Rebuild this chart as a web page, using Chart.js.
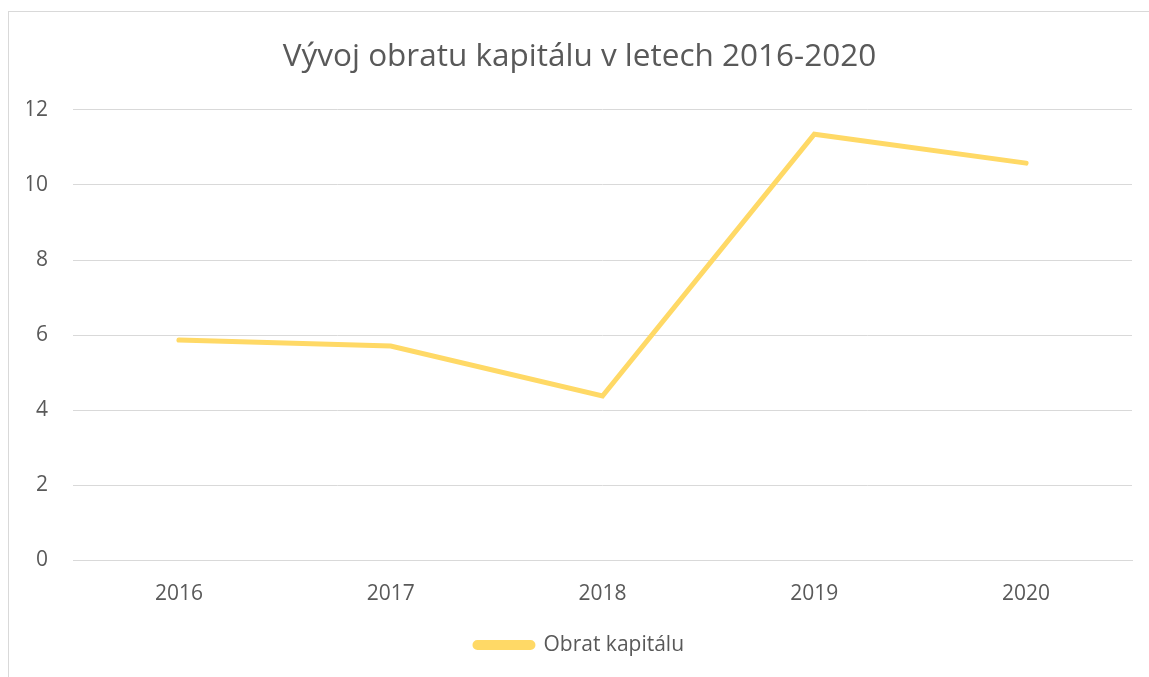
<!DOCTYPE html>
<html>
<head>
<meta charset="utf-8">
<script src="https://cdn.jsdelivr.net/npm/chart.js@4/dist/chart.umd.min.js"></script>
<style>
  html, body { margin: 0; padding: 0; background: #ffffff; overflow: hidden; }
  #frame { position: absolute; left: 8px; top: 11px; width: 1141px; height: 680px; border: 1px solid #d9d9d9; background: #fff; }
  #wrap { position: absolute; left: 0; top: 0; width: 1141px; height: 665px; }
</style>
</head>
<body>
<div id="frame"><div id="wrap"><canvas id="c"></canvas></div></div>
<script>
const titleText = "Vývoj obratu kapitálu v letech 2016-2020";
const categories = ["2016", "2017", "2018", "2019", "2020"];
const seriesName = "Obrat kapitálu";
const seriesValues = [5.87, 5.71, 4.38, 11.35, 10.58];
const yTicks = [0, 2, 4, 6, 8, 10, 12];

const textColor = "#595959";
const gridColor = "#d9d9d9";
const lineColor = "#FFD966";
const fontFamily = "'Open Sans', 'Liberation Sans', sans-serif";

new Chart(document.getElementById("c"), {
  type: "line",
  data: {
    labels: categories,
    datasets: [{
      label: seriesName,
      data: seriesValues,
      borderColor: lineColor,
      backgroundColor: lineColor,
      borderWidth: 5,
      borderCapStyle: "round",
      borderJoinStyle: "miter",
      pointRadius: 0,
      pointHoverRadius: 0,
      tension: 0,
      fill: false
    }]
  },
  options: {
    responsive: true,
    maintainAspectRatio: false,
    animation: false,
    layout: { padding: { left: 18, right: 18, top: 0, bottom: 11.5 } },
    plugins: {
      title: {
        display: true,
        text: titleText,
        color: textColor,
        font: { family: fontFamily, size: 31.5, weight: "normal" },
        padding: { top: 26, bottom: 34 }
      },
      legend: {
        display: true,
        position: "bottom",
        labels: {
          color: textColor,
          font: { family: fontFamily, size: 21 },
          boxWidth: 58,
          boxHeight: 5,
          useBorderRadius: true,
          borderRadius: 2.5,
          padding: 10
        }
      },
      tooltip: { enabled: false }
    },
    scales: {
      x: {
        offset: true,
        grid: { display: false, drawTicks: false },
        border: { display: true, color: gridColor, width: 1 },
        ticks: { color: textColor, font: { family: fontFamily, size: 21 }, padding: 21, maxRotation: 0 },
        afterFit: (s) => { s.height = 64; }
      },
      y: {
        min: 0,
        max: 12,
        afterBuildTicks: (s) => { s.ticks = yTicks.map(v => ({ value: v })); },
        grid: { color: gridColor, lineWidth: 1, drawTicks: false },
        border: { display: false },
        ticks: { color: textColor, font: { family: fontFamily, size: 21 }, padding: 25 },
        afterFit: (s) => { s.width = 46; }
      }
    }
  }
});
</script>
</body>
</html>
